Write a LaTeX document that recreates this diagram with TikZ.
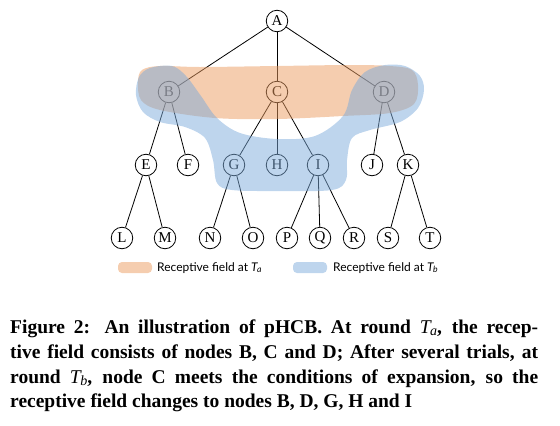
\documentclass[tikz,border=0pt]{standalone}
\usepackage{fontspec}
\usepackage{graphicx}
\setmainfont{Liberation Serif}
\newfontfamily\legfont{Lato}
\newcommand\Tsb[1]{{\mdseries\itshape T\kern-0.5pt\raisebox{-0.3ex}{\scalebox{0.72}{#1}}}}
\tikzset{
  tn/.style={circle,draw,line width=0.8pt,minimum size=21.5pt,inner sep=0pt,font=\fontsize{15}{15}\selectfont},
  ed/.style={line width=0.8pt},
  capline/.style={anchor=base west,inner sep=0pt,font=\fontsize{19.5}{19.5}\selectfont\bfseries},
  legtext/.style={anchor=base west,inner sep=0pt,font=\legfont\fontsize{12}{12}\selectfont}
}
\definecolor{orgfill}{RGB}{235,155,95}
\definecolor{bluefill}{RGB}{125,171,219}
\begin{document}
\begin{tikzpicture}[x=1pt,y=-1pt]
\useasboundingbox (0,0) rectangle (560,426);
% tree nodes
\node[tn] (A) at (277,21) {A};
\node[tn] (B) at (169,92) {B};
\node[tn] (C) at (277,92) {C};
\node[tn] (D) at (384,92) {D};
\node[tn] (E) at (146,165) {E};
\node[tn] (F) at (188,165) {F};
\node[tn] (G) at (234,165) {G};
\node[tn] (H) at (277,165) {H};
\node[tn] (I) at (318,165) {I};
\node[tn] (J) at (372,165) {J};
\node[tn] (K) at (408,165) {K};
\node[tn] (L) at (122,238) {L};
\node[tn] (M) at (165,238) {M};
\node[tn] (N) at (210,238) {N};
\node[tn] (O) at (253,238) {O};
\node[tn] (P) at (287,238) {P};
\node[tn] (Q) at (320,238) {Q};
\node[tn] (R) at (354,238) {R};
\node[tn] (S) at (388,238) {S};
\node[tn] (T) at (430,238) {T};
% edges
\foreach \p/\c in {A/B,A/C,A/D,B/E,B/F,C/G,C/H,C/I,D/J,D/K,E/L,E/M,G/N,G/O,I/P,I/Q,I/R,K/S,K/T}
  \draw[ed] (\p) -- (\c);
% receptive fields
\fill[fill=orgfill,fill opacity=0.5] plot[smooth cycle,tension=0.55] coordinates {
 (142,70) (160,66) (200,67) (277,66) (350,65) (390,66) (412,70) (418,85) (414,104)
 (390,113) (343,116) (277,119) (215,118) (160,110) (141,100) (138,82)};
\fill[fill=bluefill,fill opacity=0.5] plot[smooth cycle,tension=0.55] coordinates {
 (150,68) (172,66) (186,76) (201,96) (217,118) (240,133) (277,139) (315,136) (343,116)
 (352,90) (365,72) (385,65) (405,66) (420,76) (424,90) (418,108) (400,122) (370,130)
 (352,138) (347,160) (346,180) (332,190) (277,191) (232,190) (217,183) (213,160)
 (205,138) (185,127) (160,122) (143,112) (136,95) (139,77)};
% legend
\fill[fill=orgfill,fill opacity=0.5,rounded corners=4pt] (118,262) rectangle (152,273);
\node[legtext] (la) at (157,271) {Receptive field at \Tsb{a}};
\fill[fill=bluefill,fill opacity=0.5,rounded corners=4pt] (293,262) rectangle (327,273);
\node[legtext] (lb) at (333,271) {Receptive field at \Tsb{b}};
% caption
\node[capline] (c1) at (10,333) {\makebox[528pt][s]{Figure 2: An illustration of pHCB. At round \Tsb{a}, the recep-}};
\node[capline] (c2) at (10,358) {\makebox[528pt][s]{tive field consists of nodes B, C and D; After several trials, at}};
\node[capline] (c3) at (10,383) {\makebox[528pt][s]{round \Tsb{b}, node C meets the conditions of expansion, so the}};
\node[capline] (c4) at (10,407) {receptive field changes to nodes B, D, G, H and I};
\end{tikzpicture}
\end{document}
